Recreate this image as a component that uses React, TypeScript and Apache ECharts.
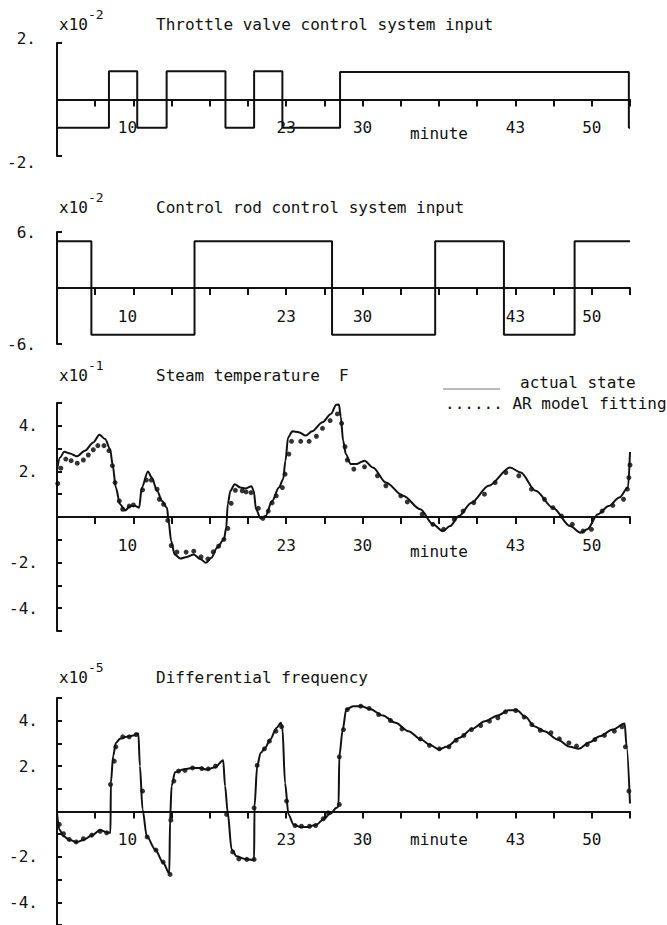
import React, { useEffect, useRef } from "react";
import * as echarts from "echarts";

// ---------- data (x in axis-tick units, 15 ticks across) ----------
const xTickLabels = ["", "", "10", "", "", "", "23", "", "30", "", "minute", "", "43", "", "50", ""];

const throttleSteps: [number, number][] = [
  [0, -1], [1.36, 1], [2.1, -1], [2.87, 1], [4.41, -1], [5.16, 1], [5.9, -1], [7.41, 0.97], [14.97, -1], [15, -1],
];

const controlRodSteps: [number, number][] = [
  [0, 5], [0.9, -5], [3.6, 5], [7.2, -5], [9.9, 5], [11.7, -5], [13.55, 5], [15, 5],
];

const steamActual: [number, number][] = [
  [0.0, 2.05], [0.08, 2.61], [0.19, 2.86], [0.34, 2.79], [0.52, 2.66], [0.73, 2.91], [0.95, 3.27], [1.11, 3.61],
  [1.26, 3.42], [1.39, 2.98], [1.46, 2.25], [1.54, 1.29], [1.65, 0.56], [1.78, 0.29], [1.92, 0.48], [2.05, 0.48],
  [2.15, 0.41], [2.22, 1.29], [2.38, 2.0], [2.48, 1.73], [2.62, 1.15], [2.75, 0.7], [2.88, 0.41], [2.92, -0.18],
  [2.99, -1.06], [3.08, -1.64], [3.23, -1.82], [3.4, -1.75], [3.58, -1.64], [3.75, -1.84], [3.9, -2.01], [4.04, -1.79],
  [4.19, -1.35], [4.37, -0.98], [4.43, -0.47], [4.47, 0.56], [4.54, 1.15], [4.65, 1.44], [4.8, 1.29], [4.93, 1.25],
  [5.09, 1.35], [5.15, 1.15], [5.21, 0.34], [5.33, -0.06], [5.46, 0.04], [5.63, 0.7], [5.81, 1.29], [5.92, 1.66],
  [5.98, 2.47], [6.05, 3.49], [6.16, 3.76], [6.33, 3.72], [6.51, 3.57], [6.68, 3.76], [6.95, 4.16], [7.17, 4.52],
  [7.31, 4.92], [7.38, 4.93], [7.43, 4.38], [7.49, 3.35], [7.56, 2.76], [7.69, 2.32], [7.83, 2.32], [8.05, 2.47],
  [8.27, 2.17], [8.61, 1.51], [9.06, 0.93], [9.51, 0.34], [9.84, -0.32], [10.1, -0.62], [10.29, -0.4], [10.52, 0.04],
  [10.85, 0.63], [11.3, 1.37], [11.86, 2.17], [12.14, 1.95], [12.53, 1.15], [12.98, 0.41], [13.43, -0.4], [13.71, -0.69],
  [13.88, -0.54], [14.16, 0.12], [14.44, 0.48], [14.72, 0.85], [14.95, 1.3], [15.0, 2.85],
];

const steamAR: [number, number][] = [
  [0.02, 1.47], [0.1, 2.14], [0.23, 2.54], [0.37, 2.47], [0.53, 2.36], [0.69, 2.5], [0.82, 2.72], [0.95, 2.95],
  [1.07, 3.13], [1.23, 3.13], [1.36, 2.91], [1.45, 2.25], [1.52, 1.51], [1.63, 0.7], [1.72, 0.34], [1.89, 0.48],
  [2.0, 0.53], [2.24, 1.19], [2.34, 1.62], [2.47, 1.62], [2.62, 1.22], [2.68, 0.78], [2.79, 0.56], [2.9, -0.15],
  [2.99, -1.25], [3.14, -1.54], [3.38, -1.54], [3.58, -1.5], [3.77, -1.75], [3.95, -1.84], [4.09, -1.53], [4.23, -1.28],
  [4.37, -0.98], [4.47, -0.5], [4.56, 0.6], [4.67, 1.17], [4.85, 1.15], [4.95, 1.1], [5.08, 1.07], [5.27, 0.38],
  [5.39, -0.06], [5.53, 0.26], [5.63, 0.62], [5.74, 0.93], [5.9, 1.29], [5.97, 1.88], [6.07, 2.76], [6.14, 3.32],
  [6.38, 3.32], [6.6, 3.32], [6.79, 3.54], [6.95, 3.89], [7.15, 4.23], [7.34, 4.52], [7.45, 4.11], [7.54, 3.08],
  [7.6, 2.5], [7.77, 2.1], [8.05, 2.2], [8.39, 1.81], [8.61, 1.37], [9.0, 0.93], [9.17, 0.66], [9.56, 0.12],
  [9.84, -0.32], [10.12, -0.54], [10.4, -0.1], [10.63, 0.26], [10.91, 0.63], [11.19, 1.0], [11.47, 1.51], [11.75, 1.95],
  [12.09, 1.81], [12.42, 1.22], [12.76, 0.78], [12.98, 0.41], [13.21, 0.04], [13.49, -0.32], [13.77, -0.62], [13.99, -0.54],
  [14.27, 0.26], [14.55, 0.51], [14.83, 0.78], [14.93, 1.22], [14.97, 1.73], [15.0, 2.28],
];

const freqActual: [number, number][] = [
  [0.0, -0.06], [0.06, -0.79], [0.17, -1.09], [0.34, -1.26], [0.51, -1.35], [0.69, -1.26], [0.91, -1.06], [1.13, -0.82],
  [1.3, -0.91], [1.4, -0.94], [1.41, 1.26], [1.47, 2.44], [1.54, 3.02], [1.65, 3.2], [1.82, 3.29], [2.0, 3.35],
  [2.13, 3.44], [2.17, 2.0], [2.24, 0.09], [2.35, -1.09], [2.57, -1.67], [2.78, -2.26], [2.94, -2.73], [2.96, -0.35],
  [3.0, 1.12], [3.09, 1.73], [3.31, 1.85], [3.53, 1.92], [3.74, 1.92], [3.92, 1.85], [4.14, 1.95], [4.35, 2.26],
  [4.4, 1.12], [4.47, -0.06], [4.57, -1.67], [4.7, -1.97], [4.92, -2.09], [5.16, -2.14], [5.17, 0.23], [5.24, 2.0],
  [5.33, 2.58], [5.45, 2.8], [5.58, 3.17], [5.75, 3.69], [5.86, 3.91], [5.9, 3.69], [5.97, 1.26], [6.06, -0.13],
  [6.19, -0.57], [6.36, -0.68], [6.58, -0.68], [6.8, -0.57], [6.97, -0.35], [7.15, -0.1], [7.32, 0.16], [7.37, 0.23],
  [7.39, 2.44], [7.48, 3.61], [7.57, 4.49], [7.75, 4.64], [7.97, 4.64], [8.19, 4.52], [8.53, 4.23], [8.86, 3.91],
  [9.2, 3.54], [9.53, 3.17], [9.75, 2.95], [10.0, 2.73], [10.2, 2.85], [10.54, 3.25], [10.87, 3.64], [11.2, 3.98],
  [11.54, 4.23], [11.82, 4.46], [12.04, 4.46], [12.26, 4.17], [12.49, 3.76], [12.76, 3.54], [13.1, 3.17], [13.43, 2.85],
  [13.66, 2.76], [13.94, 3.05], [14.21, 3.32], [14.55, 3.61], [14.86, 3.88], [14.91, 2.88], [15.0, 0.35],
];

const freqAR: [number, number][] = [
  [0.06, -0.57], [0.17, -0.98], [0.32, -1.23], [0.5, -1.34], [0.69, -1.2], [0.91, -1.04], [1.13, -0.87], [1.3, -0.94],
  [1.4, 1.19], [1.5, 2.22], [1.54, 2.85], [1.72, 3.29], [1.89, 3.29], [2.07, 3.39], [2.24, 0.9], [2.36, -1.12],
  [2.59, -1.7], [2.78, -2.23], [2.96, -2.77], [2.98, -0.38], [3.06, 1.34], [3.18, 1.78], [3.35, 1.81], [3.55, 1.92],
  [3.79, 1.89], [3.96, 1.88], [4.15, 2.0], [4.44, -0.13], [4.6, -1.78], [4.76, -2.09], [4.97, -2.11], [5.16, -2.11],
  [5.16, 0.16], [5.24, 2.03], [5.43, 2.76], [5.56, 3.1], [5.73, 3.54], [5.88, 3.73], [6.01, 0.46], [6.23, -0.62],
  [6.4, -0.65], [6.61, -0.65], [6.77, -0.62], [6.97, -0.32], [7.1, -0.06], [7.39, 0.31], [7.39, 2.41], [7.5, 3.61],
  [7.6, 4.49], [7.95, 4.64], [8.17, 4.54], [8.42, 4.27], [8.73, 4.01], [9.03, 3.64], [9.51, 3.2], [9.75, 2.91],
  [10.01, 2.76], [10.26, 2.85], [10.45, 3.14], [10.65, 3.35], [10.85, 3.61], [11.09, 3.79], [11.32, 3.98], [11.54, 4.13],
  [11.74, 4.39], [12.01, 4.45], [12.23, 4.16], [12.43, 3.83], [12.65, 3.58], [12.93, 3.47], [13.15, 3.2], [13.4, 3.02],
  [13.6, 2.88], [13.88, 2.95], [14.08, 3.17], [14.33, 3.35], [14.59, 3.54], [14.79, 3.73], [14.88, 2.85], [14.97, 0.9],
];

const panelTitles = [
  "Throttle valve control system input",
  "Control rod control system input",
  "Steam temperature  F",
  "Differential frequency",
];
const panelExponents = ["-2", "-2", "-1", "-5"];
const legendTexts = ["actual state", "...... AR model fitting"];

// ---------- styling ----------
const INK = "#111111";
const FONT = '"DejaVu Sans Mono", "Liberation Mono", monospace';
const FS = 16;

const grids = [
  { left: 57, top: 43, width: 573, height: 113 },
  { left: 57, top: 232, width: 573, height: 112 },
  { left: 57, top: 403, width: 573, height: 228 },
  { left: 57, top: 698, width: 573, height: 227 },
];
const titleY = [24, 207, 375, 677];

function xAxisFor(i: number, showMinute: boolean, lowMinute: boolean) {
  // the axis sits on the zero line, which is at the vertical middle of each grid
  return {
    type: "value",
    gridIndex: i,
    position: "bottom",
    offset: -grids[i].height / 2,
    min: 0,
    max: 15,
    interval: 1,
    axisLine: { show: true, onZero: false, lineStyle: { color: INK, width: 2 } },
    axisTick: { show: true, inside: false, length: 7, lineStyle: { color: INK, width: 2 } },
    splitLine: { show: false },
    axisLabel: {
      margin: 20,
      color: INK,
      fontFamily: FONT,
      fontSize: FS,
      formatter: (v: number) => {
        const s = xTickLabels[Math.round(v)] || "";
        if (!s) return "";
        if (s === "minute") {
          if (!showMinute) return "";
          return lowMinute ? "{m|minute}" : "{n|minute}";
        }
        if (s === "10") return "{l|10}";
        return "{n|" + s + "}";
      },
      rich: {
        n: { fontFamily: FONT, fontSize: FS, color: INK },
        l: { fontFamily: FONT, fontSize: FS, color: INK, padding: [0, 12, 0, 0] },
        m: { fontFamily: FONT, fontSize: FS, color: INK, padding: [6, 0, 0, 0] },
      },
    },
  };
}

function yAxisFor(i: number, lim: number, interval: number, margin: number, labelled: number[], shiftEnds: boolean) {
  return {
    type: "value",
    gridIndex: i,
    min: -lim,
    max: lim,
    interval,
    axisLine: { show: true, onZero: false, lineStyle: { color: INK, width: 2 } },
    axisTick: { show: true, inside: true, length: 5, lineStyle: { color: INK, width: 2 } },
    splitLine: { show: false },
    axisLabel: {
      margin,
      color: INK,
      fontFamily: FONT,
      fontSize: FS,
      formatter: (v: number) => {
        if (labelled.indexOf(v) < 0) return "";
        const s = v + ".";
        if (shiftEnds) return v > 0 ? "{t|" + s + "}" : "{b|" + s + "}";
        return "{n|" + s + "}";
      },
      rich: {
        n: { fontFamily: FONT, fontSize: FS, color: INK },
        t: { fontFamily: FONT, fontSize: FS, color: INK, padding: [0, 0, 10, 0] },
        b: { fontFamily: FONT, fontSize: FS, color: INK, padding: [12, 0, 0, 0] },
      },
    },
  };
}

function buildOption() {
  const graphic: any[] = [];
  for (let i = 0; i < 4; i++) {
    const y = titleY[i];
    graphic.push({
      type: "text", x: 59, y,
      style: { text: "x10", font: `${FS}px ${FONT}`, fill: INK, verticalAlign: "middle" },
    });
    graphic.push({
      type: "text", x: 88, y: y - 10,
      style: { text: panelExponents[i], font: `13px ${FONT}`, fill: INK, verticalAlign: "middle" },
    });
    graphic.push({
      type: "text", x: 156, y,
      style: { text: panelTitles[i], font: `${FS}px ${FONT}`, fill: INK, verticalAlign: "middle" },
    });
  }
  graphic.push({
    type: "line",
    shape: { x1: 443, y1: 389, x2: 500, y2: 389 },
    style: { stroke: "#777", lineWidth: 1 },
  });
  graphic.push({
    type: "text", x: 520, y: 382,
    style: { text: legendTexts[0], font: `${FS}px ${FONT}`, fill: INK, verticalAlign: "middle" },
  });
  graphic.push({
    type: "text", x: 445, y: 403,
    style: { text: legendTexts[1], font: `${FS}px ${FONT}`, fill: INK, verticalAlign: "middle" },
  });

  const lineStyle = { color: INK, width: 2 };
  return {
    animation: false,
    backgroundColor: "#ffffff",
    grid: grids,
    xAxis: [
      xAxisFor(0, true, true),
      xAxisFor(1, false, false),
      xAxisFor(2, true, true),
      xAxisFor(3, true, false),
    ],
    yAxis: [
      yAxisFor(0, 2, 2, 21, [2, -2], true),
      yAxisFor(1, 6, 6, 21, [6, -6], false),
      yAxisFor(2, 5, 1, 19, [4, 2, -2, -4], false),
      yAxisFor(3, 5, 1, 19, [4, 2, -2, -4], false),
    ],
    series: [
      {
        name: "Throttle valve control system input", type: "line", xAxisIndex: 0, yAxisIndex: 0,
        step: "end", data: throttleSteps, showSymbol: false, lineStyle, itemStyle: { color: INK },
      },
      {
        name: "Control rod control system input", type: "line", xAxisIndex: 1, yAxisIndex: 1,
        step: "end", data: controlRodSteps, showSymbol: false, lineStyle, itemStyle: { color: INK },
      },
      {
        name: "actual state", type: "line", xAxisIndex: 2, yAxisIndex: 2,
        data: steamActual, showSymbol: false, smooth: 0.3, smoothMonotone: "x", lineStyle, itemStyle: { color: INK },
      },
      {
        name: "AR model fitting", type: "scatter", xAxisIndex: 2, yAxisIndex: 2,
        data: steamAR, symbol: "circle", symbolSize: 5, itemStyle: { color: "#000" },
      },
      {
        name: "actual state ", type: "line", xAxisIndex: 3, yAxisIndex: 3,
        data: freqActual, showSymbol: false, smooth: 0.3, smoothMonotone: "x", lineStyle, itemStyle: { color: INK },
      },
      {
        name: "AR model fitting ", type: "scatter", xAxisIndex: 3, yAxisIndex: 3,
        data: freqAR, symbol: "circle", symbolSize: 5, itemStyle: { color: "#000" },
      },
    ],
    graphic,
  };
}

export default function App() {
  const ref = useRef<HTMLDivElement | null>(null);
  useEffect(() => {
    document.body.style.margin = "0";
    if (!ref.current) return;
    const chart = echarts.init(ref.current, null, { renderer: "svg" });
    chart.setOption(buildOption() as any);
    return () => {
      chart.dispose();
    };
  }, []);
  return <div ref={ref} style={{ width: 667, height: 925 }} />;
}
